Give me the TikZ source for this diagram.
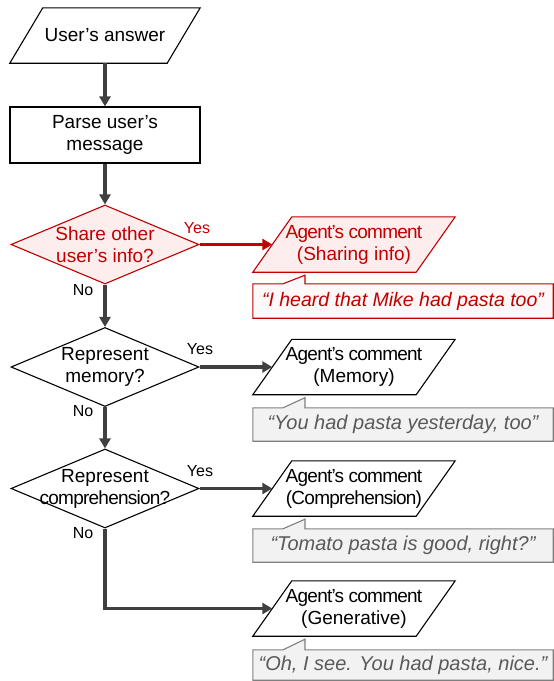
\documentclass[tikz,border=0pt]{standalone}
\usepackage{fontspec}
\setmainfont{Liberation Sans}
\usetikzlibrary{shapes, positioning, arrows.meta, backgrounds}

\definecolor{darkred}{HTML}{C00000}
\definecolor{pinkfill}{HTML}{FDEDED}
\definecolor{notepink}{HTML}{FFF8F8}
\definecolor{linegray}{HTML}{404040}
\definecolor{notegray}{HTML}{F2F2F2}
\definecolor{noteedge}{HTML}{7F7F7F}
\definecolor{notetext}{HTML}{595959}

\newcommand{\tight}{\addfontfeature{LetterSpace=-4}}

\tikzset{
  txt/.style={font=\fontsize{19}{22}\selectfont, align=center, inner sep=0pt},
  lbl/.style={font=\fontsize{16}{18}\selectfont, inner sep=0pt},
  para/.style={txt, minimum width=163, minimum height=55},
  stepbox/.style={txt, draw, line width=1.1pt, rectangle, minimum width=190, minimum height=56},
  ask/.style={draw, line width=1.1pt, diamond, inner sep=0pt, minimum width=188, minimum height=79},
  redask/.style={ask, draw=darkred, fill=pinkfill},
  plainline/.style={draw, line width=1.1pt},
  redpara/.style={draw=darkred, fill=pinkfill, line width=1.1pt},
  note/.style={txt, font=\fontsize{20}{22}\selectfont\itshape, minimum width=300, minimum height=33},
  graynote/.style={fill=notegray, draw=noteedge, line width=1.1pt},
  rednote/.style={fill=notepink, draw=darkred, line width=1.1pt},
  flow/.style={draw=linegray, line width=3.2pt, -{Triangle[length=10pt, width=11pt]}},
  redflow/.style={flow, draw=darkred}
}

\begin{document}
\begin{tikzpicture}[x=1pt, y=-1pt]
  \useasboundingbox (0,0) rectangle (554,681);

  % main column
  \node[para, minimum width=157] (answer) at (105,35.5) {User’s answer};
  \node[stepbox] (parse) at (105,135) {Parse user’s\\message};
  \node[redask] (share) at (105,244.5) {};
  \node[txt, text=darkred] (sharetxt) at (share) {Share other\\user’s info?};
  \node[ask] (memory) at (105,367) {};
  \node[txt] (memorytxt) at (memory) {Represent\\memory?};
  \node[ask] (comp) at (105,488.5) {};
  \node[txt] (comptxt) at (comp) {Represent\\{\tight comprehension?}};

  % agent comments
  \node[para, text=darkred] (c1) at (354,244.5) {{\tight Agent’s comment}\\(Sharing info)};
  \node[para] (c2) at (354,367) {{\tight Agent’s comment}\\(Memory)};
  \node[para] (c3) at (354,488.5) {{\tight Agent’s comment}\\{\tight (Comprehension)}};
  \node[para] (c4) at (354,608.5) {{\tight Agent’s comment}\\(Generative)};

  % examples
  \node[note, text=darkred, minimum height=34, font=\fontsize{19.5}{22}\selectfont\itshape] (n1) at (403,301) {“I heard that Mike had pasta too”};
  \node[note, text=notetext] (n2) at (403,424.5) {“You had pasta yesterday, too”};
  \node[note, text=notetext] (n3) at (403,545.5) {“Tomato pasta is good, right?”};
  \node[note, text=notetext, minimum height=30] (n4) at (403,665) {“Oh, I see. You had pasta, nice.”};

  \begin{scope}[on background layer]
    \foreach \n/\s/\kind in {answer/16.5/plainline, c1/19.5/redpara, c2/19.5/plainline,
        c3/19.5/plainline, c4/19.5/plainline} {
      \draw[\kind] ([xshift=-\s pt]\n.south west) -- ([xshift=\s pt]\n.north west)
        -- ([xshift=\s pt]\n.north east) -- ([xshift=-\s pt]\n.south east) -- cycle;
    }
    \foreach \out/\ex/\kind in {c1/n1/rednote, c2/n2/graynote, c3/n3/graynote, c4/n4/graynote} {
      \coordinate (tip) at ([xshift=-49pt, yshift=-3pt]\out.south);
      \draw[\kind] (\ex.north west) -- ([xshift=-22pt]tip |- \ex.north) -- (tip)
        -- (tip |- \ex.north) -- (\ex.north east) -- (\ex.south east)
        -- (\ex.south west) -- cycle;
    }
  \end{scope}

  % yes / no
  \node[lbl, text=darkred] (yes1) at (197,228) {Yes};
  \node[lbl] (no1) at (83,290) {No};
  \node[lbl] (yes2) at (200,349) {Yes};
  \node[lbl] (no2) at (83,411) {No};
  \node[lbl] (yes3) at (200,471) {Yes};
  \node[lbl] (no3) at (83,533) {No};

  \draw[flow] (answer) -- (parse);
  \draw[flow] (parse) -- (share);
  \draw[flow] (share) -- (memory);
  \draw[flow] (memory) -- (comp);
  \draw[redflow] (share.east) -- (c1.west);
  \draw[flow] (memory.east) -- (c2.west);
  \draw[flow] (comp.east) -- (c3.west);
  \draw[flow] (comp.south) |- (c4.west);
\end{tikzpicture}
\end{document}
